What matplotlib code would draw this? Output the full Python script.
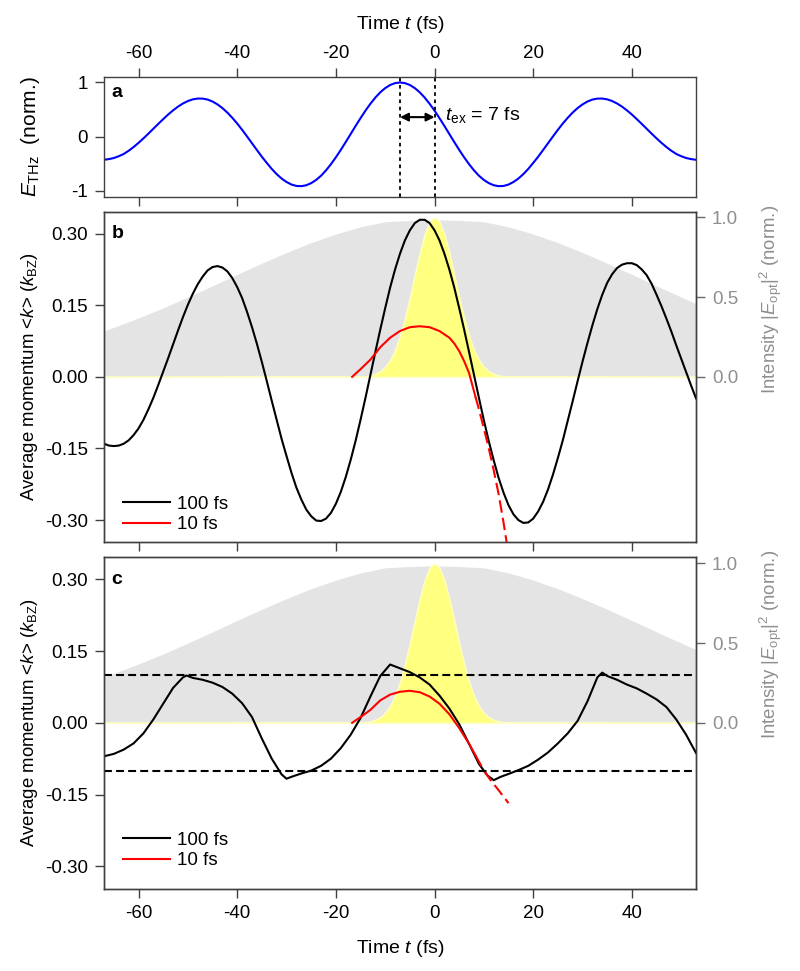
import matplotlib
matplotlib.use("Agg")
import matplotlib.pyplot as plt

plt.rcParams['font.family'] = ['Liberation Sans', 'DejaVu Sans']
plt.rcParams['mathtext.fontset'] = 'custom'
plt.rcParams['mathtext.rm'] = 'Liberation Sans'
plt.rcParams['mathtext.it'] = 'Liberation Sans:italic'
plt.rcParams['mathtext.bf'] = 'Liberation Sans:bold'
plt.rcParams['axes.unicode_minus'] = False

# ── DATA ─────────────────────────────────────────────────────────────────────
# sample times, 1 fs apart, -67 ... 53 fs
t_fine = list(range(-67, 54))

# panel a: THz field (norm.)
e_thz = [-0.428, -0.415, -0.395, -0.362, -0.320, -0.261, -0.192, -0.115, -0.032, 0.055,
         0.145, 0.235, 0.323, 0.408, 0.485, 0.554, 0.612, 0.657, 0.688, 0.703,
         0.702, 0.684, 0.648, 0.595, 0.527, 0.444, 0.348, 0.242, 0.125, 0.003,
         -0.123, -0.248, -0.372, -0.486, -0.596, -0.693, -0.774, -0.838, -0.885, -0.911,
         -0.915, -0.898, -0.859, -0.800, -0.722, -0.623, -0.509, -0.382, -0.245, -0.100,
         0.048, 0.197, 0.341, 0.480, 0.607, 0.721, 0.818, 0.896, 0.953, 0.988,
         1.000, 0.988, 0.953, 0.896, 0.818, 0.721, 0.607, 0.480, 0.341, 0.197,
         0.048, -0.100, -0.245, -0.382, -0.509, -0.623, -0.722, -0.800, -0.859, -0.898,
         -0.915, -0.911, -0.885, -0.838, -0.774, -0.693, -0.596, -0.486, -0.372, -0.248,
         -0.123, 0.003, 0.125, 0.242, 0.348, 0.444, 0.527, 0.595, 0.648, 0.684,
         0.702, 0.703, 0.688, 0.657, 0.612, 0.554, 0.485, 0.408, 0.323, 0.235,
         0.145, 0.055, -0.032, -0.115, -0.192, -0.261, -0.320, -0.362, -0.395, -0.415,
         -0.428]

# panel b: 100 fs pulse, <k> (k_BZ)
k_b = [-0.140, -0.144, -0.145, -0.144, -0.140, -0.133, -0.122, -0.108, -0.090, -0.068,
       -0.044, -0.017, 0.011, 0.039, 0.068, 0.097, 0.125, 0.151, 0.174, 0.194,
       0.210, 0.223, 0.230, 0.232, 0.229, 0.221, 0.207, 0.188, 0.165, 0.136,
       0.104, 0.069, 0.031, -0.009, -0.050, -0.090, -0.130, -0.166, -0.201, -0.232,
       -0.257, -0.278, -0.292, -0.301, -0.302, -0.297, -0.285, -0.266, -0.241, -0.210,
       -0.174, -0.134, -0.090, -0.044, 0.004, 0.052, 0.099, 0.144, 0.187, 0.225,
       0.258, 0.286, 0.307, 0.322, 0.329, 0.329, 0.322, 0.307, 0.286, 0.258,
       0.225, 0.187, 0.144, 0.099, 0.052, 0.004, -0.044, -0.091, -0.135, -0.175,
       -0.212, -0.243, -0.269, -0.288, -0.300, -0.306, -0.305, -0.297, -0.282, -0.262,
       -0.236, -0.205, -0.170, -0.133, -0.092, -0.051, -0.009, 0.032, 0.071, 0.108,
       0.142, 0.172, 0.197, 0.215, 0.228, 0.235, 0.238, 0.238, 0.234, 0.225,
       0.213, 0.195, 0.172, 0.148, 0.122, 0.095, 0.066, 0.038, 0.010, -0.018,
       -0.045]

# panel b: 10 fs pulse (solid, then dashed continuation)
t_rb = [-16.7, -15, -13, -11, -9, -7, -5, -3, -1, 1, 3, 4, 5, 6, 7, 8.3]
k_rb = [0.000, 0.016, 0.036, 0.062, 0.082, 0.096, 0.104, 0.106, 0.104, 0.096,
        0.082, 0.070, 0.054, 0.033, 0.008, -0.042]
t_rb_dash = [8.3, 9, 10, 11, 12, 13, 14, 15]
k_rb_dash = [-0.042, -0.068, -0.108, -0.150, -0.196, -0.246, -0.306, -0.372]

# panel c: 100 fs pulse
t_kc = [-67, -65, -63, -61, -59, -57, -55, -53, -51, -50.3,
        -49, -47, -45, -43, -41, -39, -37, -35, -33, -31,
        -30, -29, -27, -25, -23, -21, -19, -17, -15, -13,
        -11, -9, -7, -5, -3, -1, 1, 3, 5, 7,
        9, 10.7, 12, 13.4, 15, 17, 19, 21, 23, 25,
        27, 29, 31, 32, 33, 34, 35, 37, 39, 41,
        43, 45, 47, 49, 51, 53]
k_c = [-0.070, -0.065, -0.056, -0.043, -0.022, 0.007, 0.040, 0.073, 0.095, 0.099,
       0.094, 0.090, 0.084, 0.075, 0.061, 0.041, 0.012, -0.033, -0.075, -0.108,
       -0.117, -0.113, -0.106, -0.100, -0.090, -0.075, -0.053, -0.025, 0.010, 0.055,
       0.098, 0.122, 0.114, 0.106, 0.095, 0.080, 0.057, 0.030, -0.003, -0.044,
       -0.086, -0.110, -0.120, -0.113, -0.107, -0.099, -0.090, -0.077, -0.062, -0.043,
       -0.022, 0.004, 0.045, 0.070, 0.095, 0.105, 0.098, 0.090, 0.080, 0.072,
       0.061, 0.049, 0.033, 0.007, -0.025, -0.063]

# panel c: 10 fs pulse
t_rc = [-16.7, -15, -13, -11, -9, -7, -5, -3, -1, 1, 3, 5, 7, 8.3]
k_rc = [0.000, 0.012, 0.027, 0.047, 0.059, 0.065, 0.067, 0.064, 0.055, 0.040,
        0.018, -0.011, -0.044, -0.068]
t_rc_dash = [8.3, 10, 11.5, 13, 14, 15]
k_rc_dash = [-0.068, -0.100, -0.122, -0.141, -0.155, -0.168]

# optical intensity envelopes (right axis)
t_env = [-67, -65, -60, -55, -50, -45, -40, -35, -30, -25, -20, -15, -10,
         -5, 0, 5, 10, 15, 20, 25, 30, 35, 40, 45, 50, 53]
env_100 = [0.288, 0.310, 0.369, 0.432, 0.500, 0.570, 0.642, 0.712, 0.779, 0.841,
           0.895, 0.940, 0.972, 0.980, 0.985, 0.980, 0.972, 0.940, 0.895, 0.841,
           0.779, 0.712, 0.642, 0.570, 0.500, 0.459]
t_yel = [-67, -16, -15, -14, -13, -12, -11, -10, -9, -8, -7, -6, -5, -4, -3, -2, -1,
         0, 1, 2, 3, 4, 5, 6, 7, 8, 9, 10, 11, 12, 13, 14, 15, 16, 53]
env_10 = [0, 0.001, 0.002, 0.004, 0.009, 0.019, 0.035, 0.063, 0.106, 0.170, 0.257,
          0.369, 0.500, 0.642, 0.779, 0.895, 0.973, 1.000, 0.973, 0.895, 0.779,
          0.642, 0.500, 0.369, 0.257, 0.170, 0.106, 0.063, 0.035, 0.019, 0.009,
          0.004, 0.002, 0.001, 0]

x_ticks = [-60, -40, -20, 0, 20, 40]
k_ticks = [-0.30, -0.15, 0.00, 0.15, 0.30]
k_labels = ['-0.30', '-0.15', '0.00', '0.15', '0.30']
i_ticks = [0.0, 0.5, 1.0]
i_labels = ['0.0', '0.5', '1.0']

# ── STYLE ────────────────────────────────────────────────────────────────────
SPINE = '#404040'
GREY_TXT = '#8f8f8f'
FS_TICK = 13.5
FS_LAB = 14
FS_YLAB = 13.4
XLIM = (-67, 53)


def style(ax):
    for s in ax.spines.values():
        s.set_color(SPINE)
        s.set_linewidth(1.0)
    ax.tick_params(direction='out', length=6.5, width=1.0, color=SPINE,
                   labelsize=FS_TICK, pad=4)
    ax.tick_params(axis='y', pad=5)


fig = plt.figure(figsize=(8, 9.71), dpi=100)
ax_a = fig.add_axes([0.130, 0.7974, 0.740, 0.1238])
ax_b = fig.add_axes([0.130, 0.4418, 0.740, 0.3402])
ax_c = fig.add_axes([0.130, 0.0848, 0.740, 0.3416])

# ── Panel a ──────────────────────────────────────────────────────────────────
style(ax_a)
ax_a.plot(t_fine, e_thz, color='#0000ff', lw=1.5)
ax_a.axvline(-7, color='k', ls=(0, (2, 2)), lw=1.3)
ax_a.axvline(0, color='k', ls=(0, (2, 2)), lw=1.3)
ax_a.annotate('', xy=(0, 0.36), xytext=(-7, 0.36),
              arrowprops=dict(arrowstyle='<|-|>', color='k', lw=1.5,
                              mutation_scale=12, shrinkA=0, shrinkB=0))
ax_a.text(2.2, 0.31, r'$t_{\rm ex}$ = 7 fs', fontsize=FS_LAB, va='baseline')
ax_a.set_xlim(*XLIM)
ax_a.set_ylim(-1.11, 1.11)
ax_a.set_xticks(x_ticks)
ax_a.set_yticks([-1, 0, 1])
ax_a.set_yticklabels(['-1', '0', '1'])
ax_a.xaxis.set_label_position('top')
ax_a.tick_params(axis='x', top=True, bottom=True, labeltop=True, labelbottom=False)
ax_a.set_xlabel('Time $t$ (fs)', fontsize=FS_LAB, labelpad=11.5)
ax_a.set_ylabel(r'$E_{\rm THz}$  (norm.)', fontsize=15)
ax_a.yaxis.set_label_coords(-0.105, 0.5)
ax_a.text(0.013, 0.87, 'a', transform=ax_a.transAxes, fontsize=FS_LAB,
          fontweight='bold', va='center')


# ── Panels b, c ──────────────────────────────────────────────────────────────
def momentum_panel(ax, t_k, k, t_r, k_r, t_rd, k_rd, letter, ylim, rlim, leg_y, bottom):
    style(ax)
    axr = ax.twinx()
    style(axr)
    ax.set_zorder(axr.get_zorder() + 1)
    ax.patch.set_visible(False)

    axr.fill_between(t_env, 0, env_100, color='#e4e4e4', lw=0)
    axr.fill_between(t_yel, 0, env_10, facecolor='#ffff80', edgecolor='#ffffc4', lw=1.0)
    axr.set_ylim(*rlim)
    axr.set_yticks(i_ticks)
    axr.set_yticklabels(i_labels)
    axr.tick_params(axis='y', colors='#6a6a6a', labelcolor=GREY_TXT, pad=5)
    axr.set_ylabel(r'Intensity |$E_{\rm opt}$|$^2$ (norm.)', color=GREY_TXT, fontsize=FS_YLAB)
    axr.yaxis.set_label_coords(1.105, 0.735)

    l100, = ax.plot(t_k, k, color='k', lw=1.5)
    l10, = ax.plot(t_r, k_r, color='#ff0000', lw=1.5)
    ax.plot(t_rd, k_rd, color='#ff0000', lw=1.5, ls=(0, (6, 2.5)))

    ax.set_xlim(*XLIM)
    ax.set_ylim(*ylim)
    ax.set_xticks(x_ticks)
    ax.set_yticks(k_ticks)
    ax.set_yticklabels(k_labels)
    ax.tick_params(axis='x', top=False, labelbottom=bottom, pad=5.5)
    ax.set_ylabel(r'Average momentum <$k$> ($k_{\rm BZ}$)', fontsize=FS_YLAB)
    ax.yaxis.set_label_coords(-0.108, 0.5)
    if bottom:
        ax.set_xlabel('Time $t$ (fs)', fontsize=FS_LAB, labelpad=11)
    ax.text(0.013, 0.933, letter, transform=ax.transAxes, fontsize=FS_LAB,
            fontweight='bold', va='center')
    ax.legend(handles=[l100, l10], labels=['100 fs', '10 fs'], loc='lower left',
              bbox_to_anchor=(0.032, leg_y), frameon=False, fontsize=FS_TICK,
              handlelength=2.5, handletextpad=0.4, labelspacing=0.2,
              borderpad=0, borderaxespad=0)
    return axr


momentum_panel(ax_b, t_fine, k_b, t_rb, k_rb, t_rb_dash, k_rb_dash, 'b',
               (-0.346, 0.346), (-1.035, 1.035), 0.026, False)
momentum_panel(ax_c, t_kc, k_c, t_rc, k_rc, t_rc_dash, k_rc_dash, 'c',
               (-0.347, 0.347), (-1.04, 1.04), 0.058, True)

ax_c.axhline(0.1, color='k', lw=1.5, ls=(0, (3.8, 2)))
ax_c.axhline(-0.1, color='k', lw=1.5, ls=(0, (3.8, 2)))

fig.savefig('out.png', dpi=100)
